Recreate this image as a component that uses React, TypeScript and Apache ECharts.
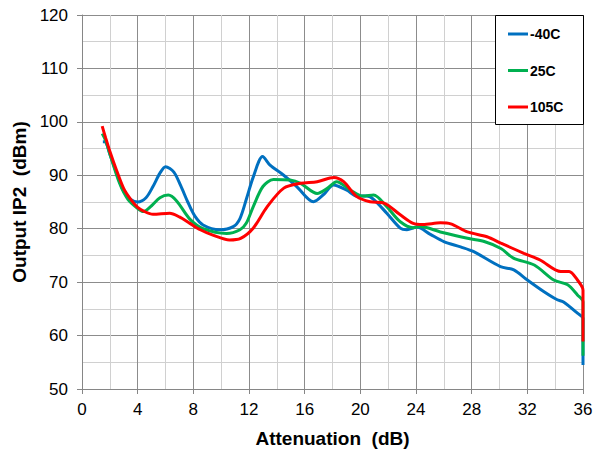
import React, { useEffect, useRef } from "react";
import * as echarts from "echarts";

const xTicks = [0, 4, 8, 12, 16, 20, 24, 28, 32, 36];
const seriesNames = ["-40C", "25C", "105C"];
const seriesColors = ["#0070C0", "#00B050", "#FF0000"];

const attnM40 = [1.5, 1.7, 2.0, 2.5, 3.0, 3.5, 4.0, 4.6, 5.1, 5.6, 6.0, 6.6, 7.1, 7.6, 8.1, 8.7, 9.9, 10.87, 11.35, 11.83, 12.31, 12.98, 13.51, 14.47, 15.43, 16.63, 17.4, 18.07, 19.03, 19.75, 20.47, 20.95, 21.9, 22.87, 23.35, 24.07, 25.0, 26.0, 27.2, 28.15, 30.07, 31.03, 32.0, 33.2, 34.15, 34.6, 35.6, 36, 36];
const ip2M40 = [96.3, 96.2, 94, 90.3, 87, 85.5, 85, 85.8, 87.9, 90.4, 91.6, 90.6, 88.0, 85.0, 82.4, 80.7, 79.8, 80.4, 81.9, 85.7, 89.7, 93.5, 91.9, 90.05, 87.9, 85.05, 86.5, 88.2, 87.2, 86.1, 86.1, 85.5, 82.9, 80.1, 79.8, 80.3, 79, 77.6, 76.6, 75.7, 72.9, 72.3, 70.4, 68.2, 66.7, 66.3, 64.2, 63.2, 54.5];

const attn25 = [1.45, 1.7, 2.0, 2.7, 3.3, 4.0, 4.4, 5.0, 5.6, 6.2, 6.8, 7.75, 8.7, 10.4, 11.35, 11.8, 12.3, 13.0, 13.75, 14.95, 15.7, 16.9, 17.6, 18.3, 19.3, 20.2, 20.95, 21.9, 22.87, 23.8, 24.3, 25.75, 27.7, 28.9, 30.1, 31.0, 32.5, 33.9, 34.9, 35.6, 36, 36];
const ip225 = [97.8, 96.5, 94, 88.5, 85.5, 83.8, 83.2, 84.3, 85.8, 86.3, 85.2, 81.8, 80, 79.1, 79.8, 81, 84.1, 87.9, 89.2, 89.1, 88.5, 86.6, 87.5, 88.8, 87.2, 86.1, 86.3, 84.1, 81.3, 80.2, 80.4, 79.4, 78.2, 77.6, 76.3, 74.5, 73.2, 70.4, 69.5, 67.6, 66.3, 56.2];

const attn105 = [1.45, 1.7, 2.0, 2.5, 3.0, 3.5, 4.0, 4.5, 5.1, 6.3, 7.0, 7.75, 8.5, 9.4, 10.6, 11.4, 12.3, 13.3, 14.5, 15.7, 16.9, 18.1, 18.8, 19.75, 20.7, 21.7, 22.87, 23.8, 24.5, 25.75, 26.5, 27.7, 29.1, 30.1, 31.75, 32.95, 34.4, 35.0, 35.6, 36, 36];
const ip2105 = [99.2, 97, 94.5, 90.8, 87.5, 85.5, 84, 83.2, 82.7, 82.9, 82.2, 81, 79.8, 78.8, 77.9, 78.2, 80.1, 84.1, 87.6, 88.5, 88.8, 89.6, 88.8, 86, 85.05, 84.8, 82.6, 81, 80.8, 81.1, 80.9, 79.4, 78.5, 77.3, 75.4, 74.1, 72, 72, 70.4, 68.5, 58.9];

const zip = (xs: number[], ys: number[]) => xs.map((x, i) => [x, ys[i]]);

export default function App() {
  const ref = useRef<HTMLDivElement>(null);
  useEffect(() => {
    if (!ref.current) return;
    document.body.style.margin = "0";
    const chart = echarts.init(ref.current, null, { renderer: "svg" });
    const font = "'Liberation Sans', Arial, sans-serif";
    const datasets = [zip(attnM40, ip2M40), zip(attn25, ip225), zip(attn105, ip2105)];
    chart.setOption({
      animation: false,
      backgroundColor: "#ffffff",
      textStyle: { fontFamily: font },
      grid: { left: 82, right: 22, top: 15, bottom: 63 },
      xAxis: {
        type: "value",
        min: 0,
        max: 36,
        interval: 4,
        name: "Attenuation  (dB)",
        nameLocation: "middle",
        nameGap: 40,
        nameTextStyle: { fontSize: 19, fontWeight: "bold", color: "#000", fontFamily: font },
        axisLine: { show: true, lineStyle: { color: "#868686", width: 1 } },
        axisTick: { show: true, length: 5, lineStyle: { color: "#868686" } },
        axisLabel: {
          fontSize: 17, color: "#000", margin: 12, fontFamily: font,
          formatter: (v: number) => (xTicks.includes(v) ? String(v) : ""),
        },
        splitLine: { show: true, lineStyle: { color: "#8c8c8c", width: 1 } },
        minorTick: { show: false, splitNumber: 2 },
        minorSplitLine: { show: true, lineStyle: { color: "#d0d0d0", width: 1 } },
      },
      yAxis: {
        type: "value",
        min: 50,
        max: 120,
        interval: 10,
        name: "Output IP2  (dBm)",
        nameLocation: "middle",
        nameGap: 53,
        nameTextStyle: { fontSize: 19, fontWeight: "bold", color: "#000", fontFamily: font },
        axisLine: { show: true, lineStyle: { color: "#868686", width: 1 } },
        axisTick: { show: true, length: 5, lineStyle: { color: "#868686" } },
        axisLabel: { fontSize: 17, color: "#000", margin: 14, fontFamily: font },
        splitLine: { show: true, lineStyle: { color: "#8c8c8c", width: 1 } },
        minorTick: { show: false, splitNumber: 2 },
        minorSplitLine: { show: true, lineStyle: { color: "#d0d0d0", width: 1 } },
      },
      legend: {
        show: true,
        orient: "vertical",
        left: 508,
        top: 27,
        z: 20,
        itemWidth: 20,
        itemHeight: 14,
        itemGap: 22.5,
        padding: 0,
        data: seriesNames.map((n, i) => ({
          name: n,
          icon: "path://M0,6 L20,6 L20,9 L0,9 Z",
          itemStyle: { color: seriesColors[i] },
        })),
        textStyle: { fontSize: 14, fontWeight: "bold", color: "#000", fontFamily: font, padding: [0, 0, 0, -3] },
      },
      graphic: [
        {
          type: "rect",
          z: 10,
          shape: { x: 495.5, y: 15.5, width: 88, height: 109 },
          style: { fill: "#ffffff", stroke: "#000000", lineWidth: 1 },
        },
      ],
      series: datasets.map((d, i) => ({
        name: seriesNames[i],
        type: "line",
        data: d,
        smooth: 0.3,
        symbol: "none",
        clip: true,
        lineStyle: { color: seriesColors[i], width: 3 },
        itemStyle: { color: seriesColors[i] },
        z: 2 + i,
      })),
    });
    return () => chart.dispose();
  }, []);
  return <div ref={ref} style={{ width: 605, height: 453, position: "absolute", left: 0, top: 0 }} />;
}
